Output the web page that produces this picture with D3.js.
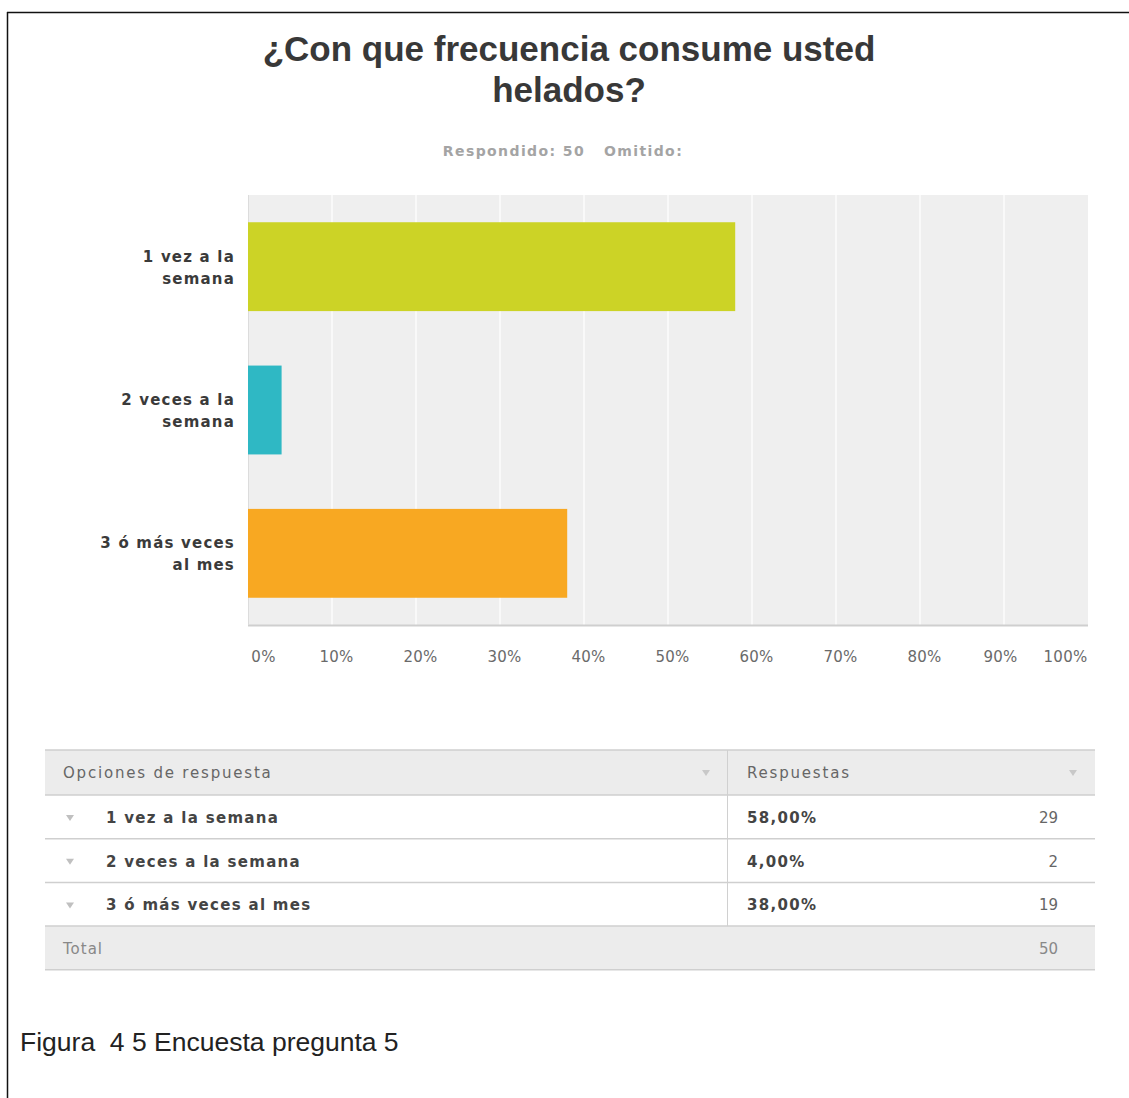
<!DOCTYPE html>
<html lang="es">
<head>
<meta charset="utf-8">
<title>¿Con que frecuencia consume usted helados?</title>
<script src="https://cdn.jsdelivr.net/npm/d3@7"></script>
<style>
  html, body { margin: 0; padding: 0; background: #fff; }
  svg { display: block; }
</style>
</head>
<body>
<svg id="chart" width="1129" height="1098"></svg>
<script>
// Survey answers
const categories = ["1 vez a la semana", "2 veces a la semana", "3 ó más veces al mes"];
const axisLabels = [["1 vez a la", "semana"], ["2 veces a la", "semana"], ["3 ó más veces", "al mes"]];
const percentages = [58, 4, 38];
const counts = [29, 2, 19];
const barColors = ["#ccd326", "#2fb8c4", "#f8a822"];
const xTicks = [0, 10, 20, 30, 40, 50, 60, 70, 80, 90, 100];
const answered = 50;
const total = 50;

const svg = d3.select("#chart");

// Frame lines
svg.append("line").attr("x1", 7).attr("x2", 1129).attr("y1", 12.5).attr("y2", 12.5)
  .attr("stroke", "#111").attr("stroke-width", 1.5);
svg.append("line").attr("x1", 7.5).attr("x2", 7.5).attr("y1", 12).attr("y2", 1098)
  .attr("stroke", "#111").attr("stroke-width", 1.5);

// Title
const title = svg.append("text")
  .attr("text-anchor", "middle")
  .attr("font-family", "Liberation Sans, Arial, sans-serif")
  .attr("font-size", 35)
  .attr("font-weight", "bold")
  .attr("fill", "#383838");
title.append("tspan").attr("x", 569).attr("y", 61).text("¿Con que frecuencia consume usted");
title.append("tspan").attr("x", 569).attr("y", 102).text("helados?");

svg.append("text")
  .attr("x", 563).attr("y", 156)
  .attr("text-anchor", "middle")
  .attr("font-family", "DejaVu Sans, sans-serif")
  .attr("font-size", 14)
  .attr("font-weight", "bold")
  .attr("letter-spacing", 1.4)
  .attr("fill", "#a4a4a4")
  .attr("xml:space", "preserve")
  .text(`Respondido: ${answered}   Omitido:`);

// Plot area
const plot = { left: 248, right: 1088, top: 195, bottom: 625 };

const x = d3.scaleLinear().domain([0, 100]).range([plot.left, plot.right]);
const y = d3.scaleBand().domain(categories).range([plot.top, plot.bottom])
  .paddingInner(0.38).paddingOuter(0.19);

svg.append("rect")
  .attr("x", plot.left).attr("y", plot.top)
  .attr("width", plot.right - plot.left).attr("height", plot.bottom - plot.top)
  .attr("fill", "#efefef");

// Vertical gridlines
svg.append("g")
  .selectAll("line")
  .data(xTicks.slice(1, -1))
  .join("line")
  .attr("x1", d => x(d)).attr("x2", d => x(d))
  .attr("y1", plot.top).attr("y2", plot.bottom)
  .attr("stroke", "#f9f9f9").attr("stroke-width", 2);

// Plot edges
svg.append("line").attr("x1", plot.left).attr("x2", plot.right)
  .attr("y1", plot.bottom + 0.5).attr("y2", plot.bottom + 0.5)
  .attr("stroke", "#cfcfcf").attr("stroke-width", 2);
svg.append("line").attr("x1", plot.left + 0.5).attr("x2", plot.left + 0.5)
  .attr("y1", plot.top).attr("y2", plot.bottom)
  .attr("stroke", "#dcdcdc").attr("stroke-width", 1);

// Bars
svg.append("g")
  .selectAll("rect")
  .data(categories)
  .join("rect")
  .attr("x", x(0))
  .attr("y", d => y(d))
  .attr("width", (d, i) => x(percentages[i]) - x(0))
  .attr("height", y.bandwidth())
  .attr("fill", (d, i) => barColors[i]);

// Category labels
const catG = svg.append("g")
  .attr("font-family", "DejaVu Sans, sans-serif")
  .attr("font-size", 15)
  .attr("font-weight", "bold")
  .attr("fill", "#3a3a3a")
  .attr("letter-spacing", 1.2)
  .attr("text-anchor", "end");
categories.forEach((c, i) => {
  const cy = y(c) + y.bandwidth() / 2;
  const t = catG.append("text");
  axisLabels[i].forEach((line, j) => {
    t.append("tspan").attr("x", 235).attr("y", cy - 5 + j * 22).text(line);
  });
});

// X axis labels
const xAxis = d3.axisBottom(x)
  .tickValues(xTicks)
  .tickFormat(d => d + "%")
  .tickSize(0)
  .tickPadding(0);
const axG = svg.append("g")
  .attr("transform", `translate(0, ${plot.bottom + 26})`)
  .call(xAxis);
axG.select(".domain").remove();
axG.selectAll("text")
  .attr("font-family", "DejaVu Sans, sans-serif")
  .attr("font-size", 15)
  .attr("fill", "#6a6a6a")
  .attr("letter-spacing", 0.3)
  .attr("dx", d => d === 0 ? 15 : d === 100 ? -23 : (d === 90 ? -4 : 4));

// Response table
const table = { left: 45, right: 1095, divider: 727, top: 750, headerH: 45, rowH: 43.7 };
const rowTop = i => table.top + table.headerH + i * table.rowH;
const totalTop = rowTop(categories.length);

svg.append("rect").attr("x", table.left).attr("y", table.top)
  .attr("width", table.right - table.left).attr("height", table.headerH)
  .attr("fill", "#ececec");
svg.append("rect").attr("x", table.left).attr("y", totalTop)
  .attr("width", table.right - table.left).attr("height", table.rowH)
  .attr("fill", "#ececec");

const hLines = [table.top, ...d3.range(categories.length + 1).map(rowTop), totalTop + table.rowH];
svg.append("g").selectAll("line").data(hLines).join("line")
  .attr("x1", table.left).attr("x2", table.right)
  .attr("y1", d => d).attr("y2", d => d)
  .attr("stroke", "#cfcfcf").attr("stroke-width", 1.5);
svg.append("line")
  .attr("x1", table.divider + 0.5).attr("x2", table.divider + 0.5)
  .attr("y1", table.top).attr("y2", totalTop)
  .attr("stroke", "#d0d0d0").attr("stroke-width", 1);

const tfont = "DejaVu Sans, sans-serif";
const tri = (cx, cy) => `M${cx - 4},${cy - 3}L${cx + 4},${cy - 3}L${cx},${cy + 3}Z`;

// Header
svg.append("text").attr("x", 63).attr("y", table.top + 28)
  .attr("font-family", tfont).attr("font-size", 15).attr("letter-spacing", 1.8)
  .attr("fill", "#666").text("Opciones de respuesta");
svg.append("text").attr("x", 747).attr("y", table.top + 28)
  .attr("font-family", tfont).attr("font-size", 15).attr("letter-spacing", 1.8)
  .attr("fill", "#666").text("Respuestas");
svg.append("path").attr("d", tri(706, table.top + 23)).attr("fill", "#c8c8c8");
svg.append("path").attr("d", tri(1073, table.top + 23)).attr("fill", "#c8c8c8");

// Rows
const fmtPct = v => v.toFixed(2).replace(".", ",") + "%";
categories.forEach((c, i) => {
  const ty = rowTop(i) + 28;
  svg.append("path").attr("d", tri(70, ty - 5)).attr("fill", "#c0c0c0");
  svg.append("text").attr("x", 106).attr("y", ty)
    .attr("font-family", tfont).attr("font-size", 15).attr("font-weight", "bold")
    .attr("letter-spacing", 1.3).attr("fill", "#444").text(c);
  svg.append("text").attr("x", 747).attr("y", ty)
    .attr("font-family", tfont).attr("font-size", 15).attr("font-weight", "bold")
    .attr("letter-spacing", 1.3).attr("fill", "#444").text(fmtPct(percentages[i]));
  svg.append("text").attr("x", 1058).attr("y", ty).attr("text-anchor", "end")
    .attr("font-family", tfont).attr("font-size", 15).attr("fill", "#666")
    .text(counts[i]);
});

// Total row
svg.append("text").attr("x", 63).attr("y", totalTop + 28)
  .attr("font-family", tfont).attr("font-size", 15).attr("letter-spacing", 1)
  .attr("fill", "#888").text("Total");
svg.append("text").attr("x", 1058).attr("y", totalTop + 28).attr("text-anchor", "end")
  .attr("font-family", tfont).attr("font-size", 15).attr("fill", "#888")
  .text(total);

// Caption
svg.append("text").attr("x", 20).attr("y", 1051)
  .attr("font-family", "Liberation Sans, Arial, sans-serif")
  .attr("font-size", 26.5).attr("fill", "#222")
  .attr("xml:space", "preserve")
  .text("Figura  4 5 Encuesta pregunta 5");
</script>
</body>
</html>
